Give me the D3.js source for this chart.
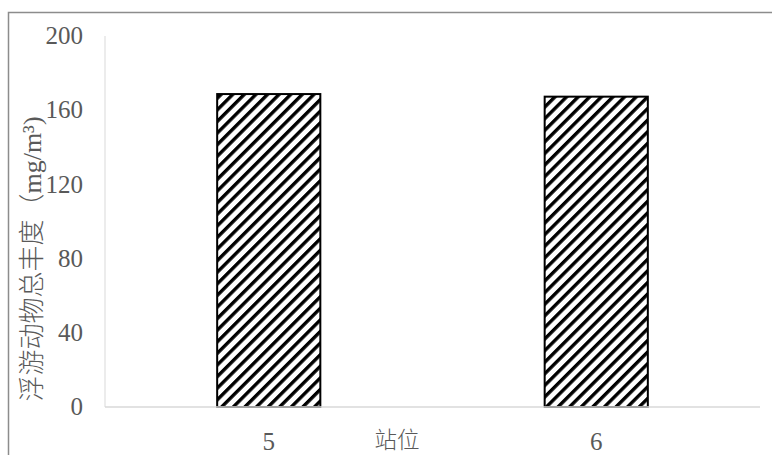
<!DOCTYPE html>
<html>
<head>
<meta charset="utf-8">
<script src="https://cdn.jsdelivr.net/npm/d3@7"></script>
<style>
  body { margin: 0; background: #fff; }
  svg { display: block; }
  .serif { font-family: "Liberation Serif", "Times New Roman", serif; }
</style>
</head>
<body>
<div id="chart"></div>
<script>
// datos
const estaciones = ["5", "6"];
const abundancia = [168.7, 167.3];
const ticksY = [0, 40, 80, 120, 160, 200];
const tituloY = "浮游动物总丰度（mg/m³)";
const tituloX = "站位";

const width = 772, height = 455;
const margen = { izq: 105, der: 760, arriba: 36, abajo: 407 };

const svg = d3.select("#chart").append("svg")
    .attr("width", width)
    .attr("height", height);

// patron de rayas diagonales
const pat = svg.append("defs").append("pattern")
    .attr("id", "rayas")
    .attr("patternUnits", "userSpaceOnUse")
    .attr("width", 8.2)
    .attr("height", 8.2)
    .attr("patternTransform", "rotate(45)");
pat.append("rect").attr("width", 8.2).attr("height", 8.2).attr("fill", "#fff");
pat.append("rect").attr("x", 0).attr("width", 3.4).attr("height", 8.2).attr("fill", "#000");

// marco exterior
svg.append("rect")
    .attr("x", 8.5).attr("y", 12.5)
    .attr("width", 800).attr("height", 500)
    .attr("fill", "none")
    .attr("stroke", "#8c8c8c")
    .attr("stroke-width", 1.5);

const x = d3.scaleBand()
    .domain(estaciones)
    .range([margen.izq, margen.der])
    .paddingInner(0.685)
    .paddingOuter(0.3425);

const y = d3.scaleLinear()
    .domain([0, 200])
    .range([margen.abajo, margen.arriba]);

// eje y
svg.append("line")
    .attr("x1", margen.izq).attr("x2", margen.izq)
    .attr("y1", y(200)).attr("y2", y(0))
    .attr("stroke", "#d9d9d9").attr("stroke-width", 1);

svg.append("g")
    .selectAll("text")
    .data(ticksY)
    .enter().append("text")
    .attr("class", "serif")
    .attr("x", 83)
    .attr("y", d => y(d))
    .attr("dy", "0.33em")
    .attr("text-anchor", "end")
    .attr("font-size", 25)
    .attr("fill", "#595959")
    .text(d => d);

// barras
svg.append("g")
    .selectAll("rect")
    .data(abundancia)
    .enter().append("rect")
    .attr("x", (d, i) => x(estaciones[i]))
    .attr("y", d => y(d))
    .attr("width", x.bandwidth())
    .attr("height", d => y(0) - y(d))
    .attr("fill", "url(#rayas)")
    .attr("stroke", "#000")
    .attr("stroke-width", 2);

// eje x
svg.append("line")
    .attr("x1", margen.izq).attr("x2", margen.der)
    .attr("y1", y(0)).attr("y2", y(0))
    .attr("stroke", "#d9d9d9").attr("stroke-width", 1.5);

svg.append("g")
    .selectAll("text")
    .data(estaciones)
    .enter().append("text")
    .attr("class", "serif")
    .attr("x", d => x(d) + x.bandwidth() / 2)
    .attr("y", 442)
    .attr("dy", "0.33em")
    .attr("text-anchor", "middle")
    .attr("font-size", 25)
    .attr("fill", "#595959")
    .text(d => d);

svg.append("text")
    .attr("x", 397)
    .attr("y", 440)
    .attr("dy", "0.36em")
    .attr("text-anchor", "middle")
    .attr("font-family", "'Noto Sans CJK SC', sans-serif")
    .attr("font-size", 22.5)
    .attr("font-weight", 300)
    .attr("fill", "#595959")
    .text(tituloX);

svg.append("text")
    .attr("transform", "translate(32,259) rotate(-90)")
    .attr("dy", "0.36em")
    .attr("text-anchor", "middle")
    .attr("font-family", "'Liberation Serif', 'Noto Sans CJK SC', serif")
    .attr("font-size", 26)
    .attr("font-weight", 300)
    .attr("fill", "#595959")
    .text(tituloY);
</script>
</body>
</html>
